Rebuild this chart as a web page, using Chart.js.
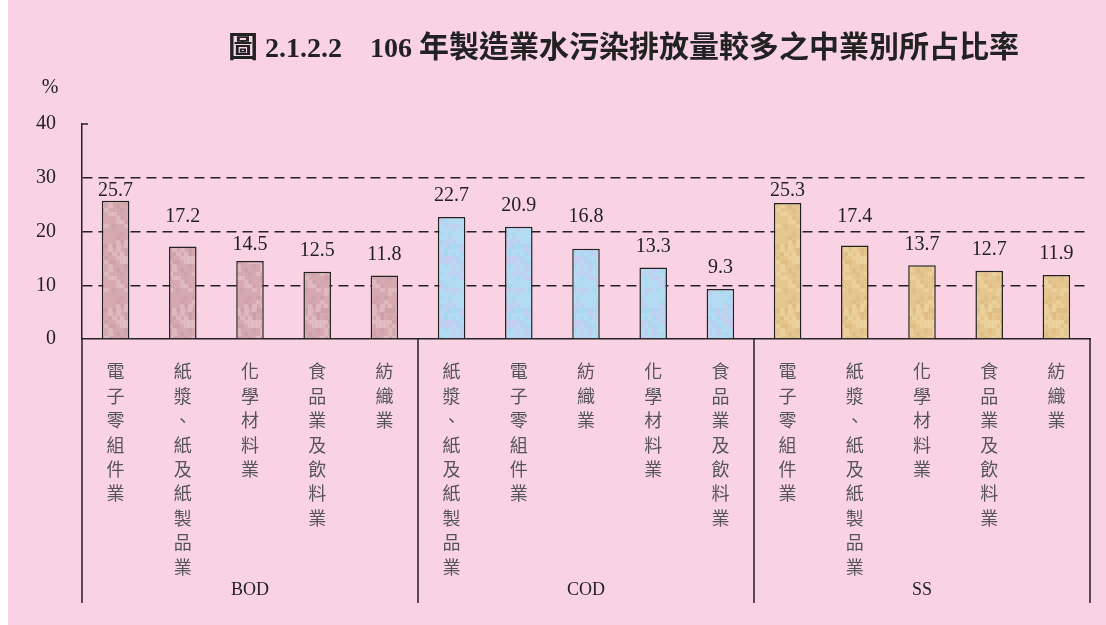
<!DOCTYPE html>
<html>
<head>
<meta charset="utf-8">
<script src="https://cdn.jsdelivr.net/npm/chart.js@4.4.1/dist/chart.umd.min.js"></script>
<style>
    html, body { margin: 0; padding: 0; background: #ffffff; }
    #wrap {
        position: absolute; left: 8px; top: 0;
        width: 1098px; height: 625px;
        background: #f9d3e4;
    }
    #title {
        position: absolute; left: 220px; top: 22px;
        font-family: "Liberation Serif", "Noto Sans CJK TC", serif;
        font-weight: bold; font-size: 28px; color: #222;
        white-space: nowrap;
    }
    #title .cjk { font-family: "Noto Sans CJK TC", sans-serif; font-size: 30px; }
</style>
</head>
<body>
<div id="wrap">
    <div id="title"><span class="cjk">圖</span> 2.1.2.2&nbsp;&nbsp;&nbsp;&nbsp;106 <span class="cjk">年製造業水污染排放量較多之中業別所占比率</span></div>
    <canvas id="chart"></canvas>
</div>
<script>
// Data
const groups = ['BOD', 'COD', 'SS'];
const bodCategories = ['電子零組件業', '紙漿、紙及紙製品業', '化學材料業', '食品業及飲料業', '紡織業'];
const codCategories = ['紙漿、紙及紙製品業', '電子零組件業', '紡織業', '化學材料業', '食品業及飲料業'];
const ssCategories = ['電子零組件業', '紙漿、紙及紙製品業', '化學材料業', '食品業及飲料業', '紡織業'];
const bodValues = [25.7, 17.2, 14.5, 12.5, 11.8];
const codValues = [22.7, 20.9, 16.8, 13.3, 9.3];
const ssValues = [25.3, 17.4, 13.7, 12.7, 11.9];
const yTicks = [0, 10, 20, 30, 40];

const serif = '"Liberation Serif", "Times New Roman", serif';
const cjk = '"Noto Sans CJK TC", sans-serif';

// Build a textured fill for the bars (deterministic mottling)
function makeTexture(base, light, dark) {
    const c = document.createElement('canvas');
    c.width = 32; c.height = 64;
    const g = c.getContext('2d');
    g.fillStyle = base;
    g.fillRect(0, 0, 32, 64);
    for (let y = 0; y < 64; y += 4) {
        for (let x = 0; x < 32; x += 4) {
            const h = Math.abs(Math.sin(x * 12.9898 + y * 78.233) * 43758.5453) % 1;
            if (h > 0.72) { g.fillStyle = light; g.globalAlpha = 0.55; g.fillRect(x, y, 5, 4); }
            else if (h < 0.2) { g.fillStyle = dark; g.globalAlpha = 0.35; g.fillRect(x, y, 4, 5); }
        }
    }
    g.globalAlpha = 1;
    return g.createPattern(c, 'repeat');
}

const ctx = document.getElementById('chart').getContext('2d');
const fills = [
    makeTexture('#d6a8b0', '#e8c6cb', '#c4949f'),
    makeTexture('#b3dcf2', '#c9c6ee', '#98d2ee'),
    makeTexture('#e4c68e', '#f0d8a8', '#d3b072')
];

const allCategories = [...bodCategories, ...codCategories, ...ssCategories];
const allValues = [...bodValues, ...codValues, ...ssValues];
const groupSize = bodCategories.length;
const barColors = allValues.map((v, i) => fills[Math.floor(i / groupSize)]);
// vertical labels: one character per line
const labels = allCategories.map(name => Array.from(name));

const extrasPlugin = {
    id: 'extras',
    afterDraw(chart) {
        const { ctx, chartArea, scales } = chart;
        const x = scales.x, y = scales.y;
        const lineBottom = 603;
        ctx.save();
        ctx.strokeStyle = '#222';
        ctx.lineWidth = 1.5;
        // axis line continues down through label area
        ctx.beginPath();
        ctx.moveTo(chartArea.left, chartArea.bottom);
        ctx.lineTo(chartArea.left, lineBottom);
        // group separators and right edge
        for (let gi = 1; gi <= groups.length; gi++) {
            let sx;
            if (gi < groups.length) {
                sx = (x.getPixelForValue(gi * groupSize - 1) + x.getPixelForValue(gi * groupSize)) / 2;
            } else {
                sx = chartArea.right;
            }
            ctx.moveTo(sx, chartArea.bottom);
            ctx.lineTo(sx, lineBottom);
        }
        // short tick at the top value
        const yTop = y.getPixelForValue(yTicks[yTicks.length - 1]);
        ctx.moveTo(chartArea.left, yTop);
        ctx.lineTo(chartArea.left + 6, yTop);
        ctx.stroke();

        // group names
        ctx.fillStyle = '#222';
        ctx.font = '18px ' + serif;
        ctx.textAlign = 'center';
        ctx.textBaseline = 'middle';
        groups.forEach((g, gi) => {
            const cx = x.getPixelForValue(gi * groupSize + (groupSize - 1) / 2);
            ctx.fillText(g, cx, 590);
        });

        // unit
        ctx.font = '20px ' + serif;
        ctx.fillText('%', chartArea.left - 32, yTop - 36);
        ctx.restore();
    },
    afterDatasetsDraw(chart) {
        const { ctx, scales } = chart;
        const y = scales.y;
        const meta = chart.getDatasetMeta(0);
        const lines = [10, 20, 30].map(v => y.getPixelForValue(v));
        const half = 10;
        ctx.save();
        ctx.fillStyle = '#222';
        ctx.font = '20px ' + serif;
        ctx.textAlign = 'center';
        ctx.textBaseline = 'middle';
        meta.data.forEach((bar, i) => {
            const top = bar.y;
            let cy = top - 21;
            lines.forEach(ly => {
                if (Math.abs(ly - cy) < half + 2) {
                    const up = ly - half - 5;
                    const down = ly + half + 3;
                    if (down + half <= top + 3 && (down - cy) < (cy - up)) cy = down;
                    else cy = up;
                }
            });
            ctx.fillText(chart.data.datasets[0].data[i].toFixed(1), bar.x, cy);
        });
        ctx.restore();
    }
};

new Chart(ctx, {
    type: 'bar',
    data: {
        labels: labels,
        datasets: [{
            data: allValues,
            backgroundColor: barColors,
            borderColor: '#222',
            borderWidth: 1.5,
            categoryPercentage: 1,
            barPercentage: 0.41
        }]
    },
    options: {
        responsive: true,
        maintainAspectRatio: false,
        animation: false,
        layout: {
            padding: { top: 124, right: 16, left: 0, bottom: 0 }
        },
        plugins: {
            legend: { display: false },
            tooltip: { enabled: false },
            title: { display: false }
        },
        scales: {
            y: {
                min: 0,
                max: 40,
                afterFit: (scale) => { scale.width = 74; },
                afterBuildTicks: (scale) => { scale.ticks = yTicks.map(v => ({ value: v })); },
                border: { color: '#222', width: 1.5, dash: [10, 6] },
                grid: {
                    drawTicks: false,
                    lineWidth: 1.5,
                    color: (c) => (c.tick && c.tick.value > 0 && c.tick.value < 40) ? '#222' : 'rgba(0,0,0,0)'
                },
                ticks: {
                    padding: 26,
                    color: '#222',
                    font: { family: serif, size: 20 }
                }
            },
            x: {
                afterFit: (scale) => { scale.height = 625 - 339; },
                border: { color: '#222', width: 1.5 },
                grid: { display: false, drawTicks: false },
                ticks: {
                    autoSkip: false,
                    maxRotation: 0,
                    minRotation: 0,
                    padding: 20,
                    color: '#555',
                    font: { family: cjk, size: 18, lineHeight: 1.36 }
                }
            }
        }
    },
    plugins: [extrasPlugin]
});
</script>
</body>
</html>
